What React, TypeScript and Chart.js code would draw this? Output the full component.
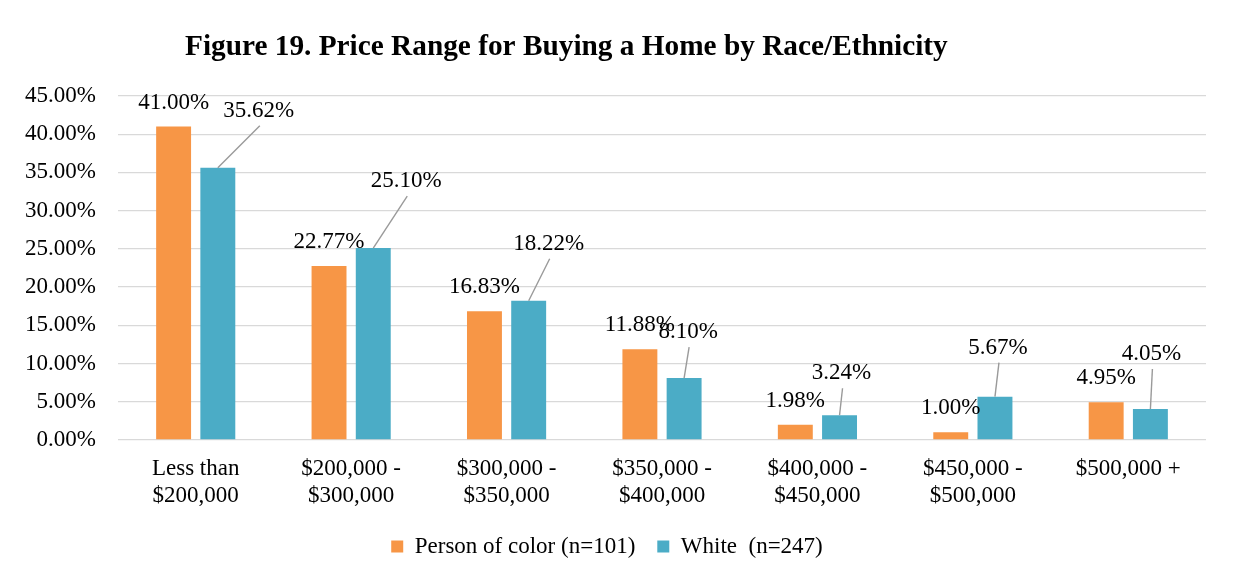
import React, { useEffect, useRef } from 'react';
import { Chart, registerables } from 'chart.js';

Chart.register(...registerables);

const categories: string[][] = [
  ['Less than', '$200,000'],
  ['$200,000 -', '$300,000'],
  ['$300,000 -', '$350,000'],
  ['$350,000 -', '$400,000'],
  ['$400,000 -', '$450,000'],
  ['$450,000 -', '$500,000'],
  ['$500,000 +'],
];
const personOfColor = [41.0, 22.77, 16.83, 11.88, 1.98, 1.0, 4.95];
const white = [35.62, 25.1, 18.22, 8.1, 3.24, 5.67, 4.05];
const seriesNames = ['Person of color (n=101)', 'White  (n=247)'];
const yMin = 0;
const yMax = 45;
const yStep = 5;
const titleText = 'Figure 19. Price Range for Buying a Home by Race/Ethnicity';

// manual label placement (offset from bar top) for the White series, as in the original
const whiteLabelOffsets = [
  [41, -57],
  [33, -67],
  [20, -57],
  [4, -46],
  [2, -42],
  [3, -49],
  [1, -55],
];

const FONT = '"Liberation Serif", "Times New Roman", serif';
const ORANGE = '#F79646';
const TEAL = '#4BACC6';

const fmt = (v: number) => v.toFixed(2) + '%';

const labelsPlugin = {
  id: 'barLabels',
  afterDatasetsDraw(chart: any) {
    const ctx = chart.ctx;
    ctx.save();
    ctx.font = `23px ${FONT}`;
    ctx.fillStyle = '#000';
    ctx.textAlign = 'center';
    ctx.textBaseline = 'middle';
    const m0 = chart.getDatasetMeta(0);
    m0.data.forEach((bar: any, i: number) => {
      ctx.fillText(fmt(personOfColor[i]), bar.x, bar.y - 24);
    });
    const m1 = chart.getDatasetMeta(1);
    m1.data.forEach((bar: any, i: number) => {
      const [dx, dy] = whiteLabelOffsets[i];
      const lx = bar.x + dx;
      const ly = bar.y + dy;
      ctx.strokeStyle = '#9a9a9a';
      ctx.lineWidth = 1.4;
      ctx.beginPath();
      ctx.moveTo(bar.x, bar.y);
      ctx.lineTo(lx + 1, ly + 15);
      ctx.stroke();
      ctx.fillText(fmt(white[i]), lx, ly);
    });
    ctx.restore();
  },
};

const titlePlugin = {
  id: 'customTitle',
  afterDraw(chart: any) {
    const ctx = chart.ctx;
    ctx.save();
    ctx.font = `bold 29.3px ${FONT}`;
    ctx.fillStyle = '#000';
    ctx.textAlign = 'left';
    ctx.textBaseline = 'alphabetic';
    ctx.fillText(titleText, 177, 47);
    ctx.restore();
  },
};

export default function App() {
  const ref = useRef<HTMLCanvasElement>(null);
  useEffect(() => {
    if (!ref.current) return;
    const chart = new Chart(ref.current, {
      type: 'bar',
      data: {
        labels: categories,
        datasets: [
          {
            label: seriesNames[0],
            data: personOfColor,
            backgroundColor: ORANGE,
            categoryPercentage: 0.569,
            barPercentage: 0.79,
          },
          {
            label: seriesNames[1],
            data: white,
            backgroundColor: TEAL,
            categoryPercentage: 0.569,
            barPercentage: 0.79,
          },
        ],
      },
      options: {
        animation: false,
        responsive: false,
        maintainAspectRatio: false,
        layout: { padding: { top: 88, right: 26, left: 0, bottom: 11 } },
        font: { family: FONT, size: 23 } as any,
        plugins: {
          title: { display: false },
          tooltip: { enabled: false },
          legend: {
            position: 'bottom',
            labels: {
              boxWidth: 12,
              boxHeight: 12,
              padding: 22,
              color: '#000',
              font: { family: FONT, size: 23 },
            },
          },
        },
        scales: {
          x: {
            grid: { display: false, drawTicks: false },
            border: { display: false },
            ticks: {
              color: '#000',
              padding: 15,
              maxRotation: 0,
              autoSkip: false,
              font: { family: FONT, size: 23, lineHeight: 1.2 },
            },
            afterFit: (s: any) => {
              s.height = 73;
            },
          },
          y: {
            min: yMin,
            max: yMax,
            ticks: {
              stepSize: yStep,
              color: '#000',
              padding: 22,
              font: { family: FONT, size: 23 },
              callback: (v: any) => Number(v).toFixed(2) + '%',
            },
            grid: { color: '#d9d9d9', lineWidth: 1.3, drawTicks: false },
            border: { display: false },
            afterFit: (s: any) => {
              s.width = 110;
            },
          },
        },
      },
      plugins: [labelsPlugin, titlePlugin],
    });
    return () => chart.destroy();
  }, []);
  return (
    <div
      style={{
        width: 1224,
        height: 571,
        border: '1px solid #d0d0d0',
        borderBottom: 'none',
        margin: '-1px 0 0 -1px',
        background: '#fff',
      }}
    >
      <canvas ref={ref} width={1224} height={571} style={{ display: 'block' }} />
    </div>
  );
}
